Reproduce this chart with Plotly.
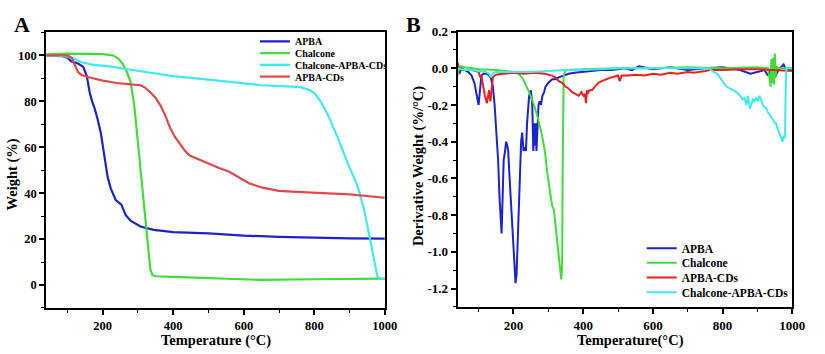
import plotly.graph_objects as go

# ---------------- Panel A: TGA (Weight %) ----------------
tA_apba = [40, 80, 100, 110, 130, 145, 155, 163, 170, 177, 186, 195, 205, 214, 223, 237, 253, 265, 279, 307, 345, 400, 500, 600, 700, 800, 900, 1000]
wA_apba = [100, 100, 99, 97.5, 96.5, 95, 91, 84, 80, 77, 72, 66, 56, 47, 42, 37, 35, 30.5, 28, 25.5, 24, 23, 22.5, 21.5, 21, 20.5, 20.3, 20.2]

tA_chal = [40, 100, 200, 230, 245, 258, 268, 279, 289, 298, 307, 316, 326, 335, 341, 350, 400, 500, 650, 800, 1000]
wA_chal = [100.5, 100.8, 100.6, 100, 98.5, 96, 93, 88.5, 79, 65, 50, 34, 18.5, 7, 4.3, 3.8, 3.5, 3, 2.2, 2.5, 2.8]

tA_cac = [40, 100, 120, 140, 170, 230, 270, 330, 400, 500, 580, 650, 720, 760, 785, 801, 820, 839, 867, 895, 923, 941, 960, 972, 979, 985, 1000]
wA_cac = [100, 99.5, 98.5, 97, 96, 95, 94, 92.5, 91, 89.5, 88, 87, 86.5, 86.2, 85, 83.5, 79.5, 74, 64, 53, 43, 33, 18.5, 9, 3.6, 3, 2.9]

tA_cds = [40, 100, 112, 121, 130, 140, 158, 200, 240, 279, 307, 320, 335, 350, 363, 377, 391, 405, 419, 433, 447, 475, 503, 530, 559, 587, 615, 650, 699, 750, 801, 900, 1000]
wA_cds = [100, 100, 99, 95.6, 92.8, 91.5, 90.6, 89, 88, 87.4, 87, 86, 84, 81.5, 78.5, 74, 68.5, 64.5, 61.4, 58.5, 56.4, 54.5, 52.8, 51, 49.3, 46.8, 44.3, 42.5, 41, 40.6, 40.3, 39.5, 38]

# ---------------- Panel B: DTG (Derivative weight %/°C) ----------------
tB_apba = [40, 45, 50, 60, 70, 80, 88, 95, 100, 104, 108, 115, 125, 135, 141, 146, 151, 156, 160, 163,
           166, 169, 172, 176, 179, 182, 185, 189, 193, 198, 202, 206, 209, 212, 215, 219, 222, 225, 229, 233,
           236, 239, 242, 245, 250, 254, 257, 260, 262, 264, 266, 269, 272, 275, 279, 283, 288, 292, 300, 311,
           320, 330, 345, 358, 375, 396, 420, 450, 480, 500, 520, 540, 560, 600, 650, 700, 750, 800, 850, 880,
           900, 920, 930, 940, 950, 960, 975, 980, 990, 1000]
dB_apba = [0.01, -0.03, 0.0, -0.01, -0.02, -0.04, -0.08, -0.15, -0.2, -0.12, -0.04, -0.03, -0.03, -0.05, -0.1, -0.2, -0.35, -0.5, -0.7, -0.82,
           -0.9, -0.7, -0.5, -0.45, -0.4, -0.42, -0.45, -0.6, -0.75, -0.9, -1.05, -1.17, -1.12, -0.95, -0.8, -0.6, -0.4, -0.35, -0.45, -0.43,
           -0.45, -0.3, -0.22, -0.15, -0.12, -0.2, -0.45, -0.3, -0.42, -0.3, -0.45, -0.3, -0.2, -0.18, -0.2, -0.15, -0.13, -0.1, -0.08, -0.06,
           -0.06, -0.05, -0.04, -0.03, -0.025, -0.02, -0.015, -0.01, -0.01, -0.005, 0.0, -0.01, 0.01, -0.005, 0.005, -0.01, 0.0, 0.005, -0.01, -0.03,
           -0.02, -0.01, -0.04, 0.0, -0.05, -0.01, 0.02, 0.0, -0.01, 0.0]

tB_chal = [40, 45, 50, 60, 80, 100, 150, 200, 215, 226, 235, 245, 259, 270, 283, 290, 297, 302, 307, 311,
           316, 320, 325, 330, 335, 337, 339, 340, 341, 342, 344, 350, 400, 500, 600, 700, 800, 900, 930, 938,
           940, 943, 946, 948, 950, 952, 955, 960, 1000]
dB_chal = [-0.04, 0.01, 0.01, 0.005, 0.0, -0.005, -0.01, -0.02, -0.03, -0.054, -0.09, -0.13, -0.2, -0.27, -0.375, -0.45, -0.57, -0.64, -0.71, -0.75,
           -0.77, -0.85, -0.95, -1.05, -1.12, -1.15, -1.1, -1.0, -0.6, -0.2, -0.04, -0.01, -0.005, 0.0, 0.0, 0.005, 0.0, 0.005, 0.0, -0.1,
           0.05, -0.08, 0.06, -0.09, 0.08, -0.05, 0.01, 0.0, 0.0]

tB_cds = [40, 43, 48, 60, 80, 100, 105, 108, 113, 118, 124, 128, 130, 134, 138, 141, 146, 151, 170, 200,
          230, 260, 290, 311, 320, 330, 340, 349, 358, 368, 378, 387, 395, 401, 405, 408, 411, 413, 418, 425,
          430, 434, 443, 453, 465, 481, 500, 505, 510, 528, 550, 575, 600, 623, 650, 670, 700, 717, 750, 764,
          800, 850, 900, 950, 1000]
dB_cds = [0.03, 0.0, -0.01, -0.01, -0.01, -0.02, -0.05, -0.04, -0.1, -0.15, -0.19, -0.14, -0.12, -0.18, -0.1, -0.05, -0.04, -0.035, -0.03, -0.025,
          -0.03, -0.025, -0.03, -0.04, -0.05, -0.07, -0.08, -0.1, -0.11, -0.13, -0.14, -0.15, -0.13, -0.15, -0.14, -0.19, -0.12, -0.14, -0.12, -0.12,
          -0.11, -0.1, -0.08, -0.07, -0.06, -0.05, -0.04, -0.07, -0.04, -0.04, -0.035, -0.04, -0.03, -0.035, -0.025, -0.03, -0.02, -0.025, -0.015, -0.01,
          -0.01, -0.005, -0.005, -0.01, -0.015]

tB_cac = [40, 50, 60, 80, 100, 120, 130, 135, 140, 150, 200, 250, 300, 350, 400, 450, 500, 600, 700, 760,
          774, 785, 792, 800, 811, 820, 830, 840, 850, 858, 863, 868, 873, 878, 882, 887, 892, 896, 901, 906,
          910, 915, 920, 925, 930, 934, 940, 945, 950, 953, 958, 962, 967, 970, 972, 975, 979, 981, 983, 990,
          1000]
dB_cac = [0.0, -0.005, -0.01, -0.01, -0.015, -0.02, -0.03, -0.05, -0.03, -0.02, -0.02, -0.02, -0.015, -0.01, -0.01, -0.005, 0.0, 0.0, 0.0, 0.0,
          -0.02, -0.03, -0.05, -0.07, -0.1, -0.11, -0.12, -0.13, -0.15, -0.17, -0.16, -0.2, -0.15, -0.22, -0.2, -0.17, -0.18, -0.16, -0.18, -0.15,
          -0.17, -0.2, -0.21, -0.22, -0.24, -0.25, -0.27, -0.28, -0.3, -0.3, -0.33, -0.35, -0.37, -0.39, -0.4, -0.37, -0.38, -0.1, 0.0, 0.0,
          0.0]

# tick values / labels
x_ticks = [200, 400, 600, 800, 1000]
x_ticklabels = ["200", "400", "600", "800", "1000"]
yA_ticks = [0, 20, 40, 60, 80, 100]
yA_ticklabels = ["0", "20", "40", "60", "80", "100"]
yB_ticks = [0.2, 0.0, -0.2, -0.4, -0.6, -0.8, -1.0, -1.2]
yB_ticklabels = ["0.2", "0.0", "-0.2", "-0.4", "-0.6", "-0.8", "-1.0", "-1.2"]

# colours
C_BLUE = "#1c22cc"
C_GREEN = "#3fdc3a"
C_CYAN = "#3eeaf0"
C_RED_A = "#e2474a"
C_RED_B = "#ee1f1f"

FONT = "Liberation Serif"
W, H = 825, 354

fig = go.Figure()

# each legend entry lives in its own one-item legend (legend2..legend9) so spacing matches
fig.add_trace(go.Scatter(x=tA_apba, y=wA_apba, mode="lines", name="<b>APBA</b>", line=dict(color=C_BLUE, width=2.2), legend="legend2", xaxis="x", yaxis="y"))
fig.add_trace(go.Scatter(x=tA_chal, y=wA_chal, mode="lines", name="<b>Chalcone</b>", line=dict(color=C_GREEN, width=2.2), legend="legend3", xaxis="x", yaxis="y"))
fig.add_trace(go.Scatter(x=tA_cac, y=wA_cac, mode="lines", name="<b>Chalcone-APBA-CDs</b>", line=dict(color=C_CYAN, width=2.2), legend="legend4", xaxis="x", yaxis="y"))
fig.add_trace(go.Scatter(x=tA_cds, y=wA_cds, mode="lines", name="<b>APBA-CDs</b>", line=dict(color=C_RED_A, width=2.2), legend="legend5", xaxis="x", yaxis="y"))

fig.add_trace(go.Scatter(x=tB_apba, y=dB_apba, mode="lines", name="<b>APBA</b>", line=dict(color=C_BLUE, width=2), legend="legend6", xaxis="x2", yaxis="y2"))
fig.add_trace(go.Scatter(x=tB_chal, y=dB_chal, mode="lines", name="<b>Chalcone</b>", line=dict(color=C_GREEN, width=2), legend="legend7", xaxis="x2", yaxis="y2"))
fig.add_trace(go.Scatter(x=tB_cds, y=dB_cds, mode="lines", name="<b>APBA-CDs</b>", line=dict(color=C_RED_B, width=2), legend="legend8", xaxis="x2", yaxis="y2"))
fig.add_trace(go.Scatter(x=tB_cac, y=dB_cac, mode="lines", name="<b>Chalcone-APBA-CDs</b>", line=dict(color=C_CYAN, width=2), legend="legend9", xaxis="x2", yaxis="y2"))


def axis(rng, domain, anchor, tickfs, vals, labels, minor_dtick):
    return dict(
        range=rng, domain=domain, anchor=anchor,
        showline=True, linewidth=2, linecolor="black", mirror=True,
        ticks="outside", ticklen=5, tickwidth=1.5, tickcolor="black",
        showgrid=False, zeroline=False,
        tickmode="array", tickvals=vals, ticktext=["<b>%s</b>" % s for s in labels],
        tickfont=dict(family=FONT, size=tickfs, color="black"),
        minor=dict(tickmode="linear", tick0=0, dtick=minor_dtick, ticks="outside",
                   ticklen=3, tickwidth=1.3, tickcolor="black", showgrid=False),
    )


fig.update_layout(
    width=W, height=H,
    margin=dict(l=0, r=0, t=0, b=0),
    paper_bgcolor="white", plot_bgcolor="white",
    showlegend=True,
    xaxis=axis([40, 1000], [47 / W, 391 / W], "y", 12.5, x_ticks, x_ticklabels, 100),
    yaxis=axis([-10, 110], [1 - 307 / H, 1 - 26 / H], "x", 12.5, yA_ticks, yA_ticklabels, 10),
    xaxis2=axis([40, 1000], [465 / W, 805 / W], "y2", 13, x_ticks, x_ticklabels, 100),
    yaxis2=axis([-1.3, 0.2], [1 - 306 / H, 1 - 25 / H], "x2", 13, yB_ticks, yB_ticklabels, 0.1),
)

legA_font = dict(family=FONT, size=10, color="black")
legB_font = dict(family=FONT, size=11.5, color="black")
for i, yc in enumerate([35, 47, 59, 71]):
    fig.update_layout({f"legend{i + 2}": dict(x=259 / W, y=1 - yc / H, xanchor="left", yanchor="middle",
                                              bgcolor="rgba(0,0,0,0)", font=legA_font)})
for i, yc in enumerate([246, 261, 276, 291]):
    fig.update_layout({f"legend{i + 6}": dict(x=652 / W, y=1 - yc / H, xanchor="left", yanchor="middle",
                                              bgcolor="rgba(0,0,0,0)", font=legB_font)})

title_font = dict(family=FONT, size=14.5, color="black")
ann = [
    dict(text="<b>A</b>", x=22 / W, y=1 - 18 / H, font=dict(family=FONT, size=22, color="black")),
    dict(text="<b>B</b>", x=420 / W, y=1 - 18 / H, font=dict(family=FONT, size=22, color="black")),
    dict(text="<b>Temperature (°C)</b>", x=219 / W, y=1 - 340 / H, font=title_font),
    dict(text="<b>Weight (%)</b>", x=13 / W, y=1 - 171 / H, font=title_font, textangle=-90),
    dict(text="<b>Temperature(°C)</b>", x=641 / W, y=1 - 340 / H, font=title_font),
    dict(text="<b>Derivative Weight (%/°C)</b>", x=425 / W, y=1 - 162 / H, font=title_font, textangle=-90),
]
for a in ann:
    a.update(xref="paper", yref="paper", showarrow=False, xanchor="center", yanchor="middle")
fig.update_layout(annotations=ann)

fig.write_html("out.html")
